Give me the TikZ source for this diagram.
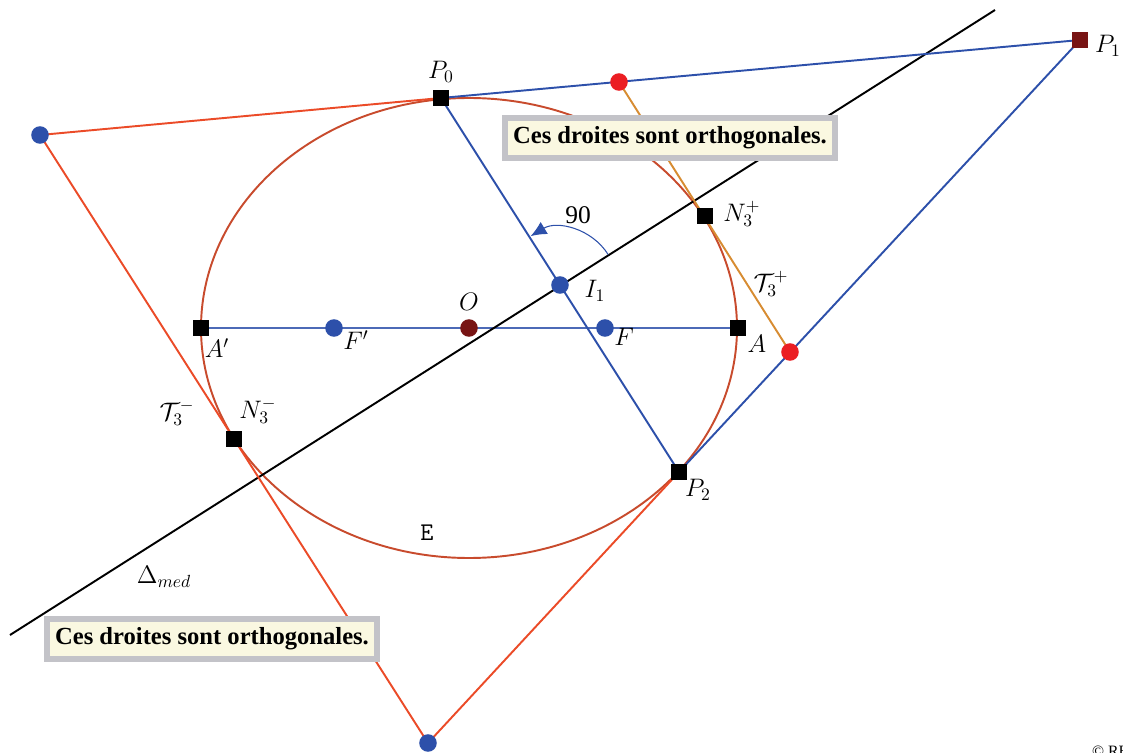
\documentclass[tikz,border=0pt]{standalone}
\usepackage{fontspec}
\setmainfont{Liberation Serif}
\usetikzlibrary{arrows.meta}

\definecolor{ellred}{RGB}{200,75,45}
\definecolor{tanred}{RGB}{235,75,40}
\definecolor{lineblue}{RGB}{45,80,170}
\definecolor{tanorange}{RGB}{215,140,50}
\definecolor{darkred}{RGB}{120,20,20}
\definecolor{dotred}{RGB}{235,30,35}
\definecolor{boxgray}{RGB}{195,195,200}
\definecolor{boxcream}{RGB}{250,248,225}

\begin{document}
\begin{tikzpicture}[
  x=0.02cm, y=-0.02cm,
  >=Latex,
  sqpt/.style={fill=black, minimum size=9pt, inner sep=0pt},
  sqdark/.style={sqpt, fill=darkred},
  bluept/.style={circle, fill=lineblue, minimum size=10pt, inner sep=0pt},
  redpt/.style={circle, fill=dotred, minimum size=10pt, inner sep=0pt},
  centrept/.style={circle, fill=darkred, minimum size=10pt, inner sep=0pt},
  blueln/.style={lineblue, line width=1.1pt},
  redln/.style={tanred, line width=1.1pt},
  lbl/.style={font=\fontsize{14.5}{16}\selectfont, inner sep=0pt},
  note/.style={draw=boxgray, line width=3.5pt, fill=boxcream,
               minimum width=6.6cm, minimum height=0.8cm,
               font=\fontsize{14}{16}\selectfont\bfseries},
]
\useasboundingbox (0,0) rectangle (1123,753);

% points
\coordinate (O) at (469,328);
\coordinate (Ap) at (201,328);
\coordinate (A) at (738,328);
\coordinate (Fp) at (334,328);
\coordinate (F) at (605,328);
\coordinate (P0) at (441,98);
\coordinate (P1) at (1080,40);
\coordinate (P2) at (679,472);
\coordinate (I1) at (560,285);
\coordinate (Np) at (705,216);
\coordinate (Nm) at (234,439);
\coordinate (Tp0) at (619,82);
\coordinate (Tp1) at (790,352);
\coordinate (Q0) at (40,135);
\coordinate (Q1) at (428,743);
\coordinate (D0) at (10,635);
\coordinate (D1) at (995,10);

% ellipse and lines
\draw[ellred, line width=1.1pt] (O) ellipse [x radius=268, y radius=230];
\draw[lineblue!85, line width=0.6pt] (Ap) -- (A);
\draw[line width=1.1pt] (D0) -- (D1);
\draw[redln] (P0) -- (Q0) -- (Q1) -- (P2);
\draw[blueln] (P1) -- (P0) -- (P2) -- (P1);
\draw[tanorange, line width=1.1pt] (Tp0) -- (Tp1);

% right angle
\draw[lineblue, line width=0.6pt, -{Latex[length=9pt, width=8pt]}]
  (I1) ++(-32.4:57) arc[start angle=-32.4, end angle=-121, radius=57];
\node[lbl] (ang) at (578,215) {90};

% markers
\node[sqpt] (mP0) at (P0) {};
\node[sqdark] (mP1) at (P1) {};
\node[sqpt] (mP2) at (P2) {};
\node[sqpt] (mAp) at (Ap) {};
\node[sqpt] (mA) at (A) {};
\node[sqpt] (mNp) at (Np) {};
\node[sqpt] (mNm) at (Nm) {};
\node[bluept] (mFp) at (Fp) {};
\node[bluept] (mF) at (F) {};
\node[bluept] (mI1) at (I1) {};
\node[bluept] (mQ0) at (Q0) {};
\node[bluept] (mQ1) at (Q1) {};
\node[centrept] (mO) at (O) {};
\node[redpt] (mTp0) at (Tp0) {};
\node[redpt] (mTp1) at (Tp1) {};

% labels
\node[lbl] (lP0) at (441,72) {$P_0$};
\node[lbl] (lP1) at (1108,46) {$P_1$};
\node[lbl] (lP2) at (698,490) {$P_2$};
\node[lbl] (lI1) at (595,291) {$I_1$};
\node[lbl] (lO) at (469,302) {$O$};
\node[lbl] (lAp) at (217,348) {$A'$};
\node[lbl] (lFp) at (356,340) {$F'$};
\node[lbl] (lF) at (624,337) {$F$};
\node[lbl] (lA) at (757,344) {$A$};
\node[lbl] (lNp) at (742,214) {$N_3^+$};
\node[lbl] (lTp) at (771,284) {$\mathcal{T}_3^+$};
\node[lbl] (lTm) at (177,413) {$\mathcal{T}_3^-$};
\node[lbl] (lNm) at (258,411) {$N_3^-$};
\node[lbl] (lE) at (427,533) {\texttt{E}};
\node[lbl] (lD) at (164,577) {$\Delta_{med}$};
\node[font=\small, anchor=west] (copy) at (1086,751) {\copyright\ RB};

% notes
\node[note] (n1) at (670,138) {Ces droites sont orthogonales.};
\node[note] (n2) at (212,639) {Ces droites sont orthogonales.};
\end{tikzpicture}
\end{document}
